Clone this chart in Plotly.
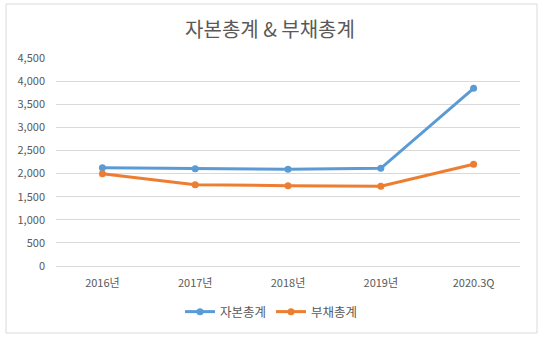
import plotly.graph_objects as go

categories = ["2016년", "2017년", "2018년", "2019년", "2020.3Q"]
equity_total = [2127, 2105, 2092, 2113, 3844]
liabilities_total = [1997, 1760, 1738, 1724, 2200]
series_names = ["자본총계", "부채총계"]
title_text = "자본총계 &amp; 부채총계"

FONT = "Noto Sans CJK KR, Malgun Gothic, sans-serif"
TXT = "#595959"

fig = go.Figure()
fig.add_trace(go.Scatter(
    x=categories, y=equity_total, name=series_names[0], mode="lines+markers",
    line=dict(color="#5B9BD5", width=3), marker=dict(size=7, color="#5B9BD5"),
))
fig.add_trace(go.Scatter(
    x=categories, y=liabilities_total, name=series_names[1], mode="lines+markers",
    line=dict(color="#ED7D31", width=3), marker=dict(size=7, color="#ED7D31"),
))

fig.update_layout(
    width=544, height=342,
    margin=dict(l=56, r=24, t=58, b=76),
    paper_bgcolor="white", plot_bgcolor="white",
    font=dict(family=FONT, size=11, color=TXT),
    title=dict(text=title_text, x=270 / 544, xref="container", xanchor="center",
               y=1 - 30 / 342, yanchor="middle",
               font=dict(family=FONT, size=20, color=TXT)),
    showlegend=True,
    legend=dict(orientation="h", x=(180 - 56) / 464, xref="paper", xanchor="left",
                y=-(312 - 266) / (266 - 58), yanchor="middle",
                font=dict(family=FONT, size=12.5, color=TXT),
                itemwidth=30, bgcolor="rgba(0,0,0,0)"),
    xaxis=dict(type="category", showgrid=False, showline=True, linecolor="#D9D9D9",
               linewidth=1, ticks="", tickfont=dict(family=FONT, size=11, color=TXT),
               range=[-0.5, 4.5], fixedrange=True, ticklabelstandoff=7),
    yaxis=dict(range=[0, 4500], dtick=500, tickformat=",", showgrid=True,
               gridcolor="#D9D9D9", gridwidth=1, zeroline=False, showline=False,
               ticks="", tickfont=dict(family=FONT, size=11, color=TXT),
               ticklabelstandoff=10),
)

fig.add_shape(type="rect", xref="paper", yref="paper",
              x0=(6 - 56) / 464, x1=(537 - 56) / 464,
              y0=(266 - 333) / 208, y1=(266 - 4) / 208,
              line=dict(color="#D9D9D9", width=1), fillcolor="rgba(0,0,0,0)", layer="below")

fig.write_html("out.html")
